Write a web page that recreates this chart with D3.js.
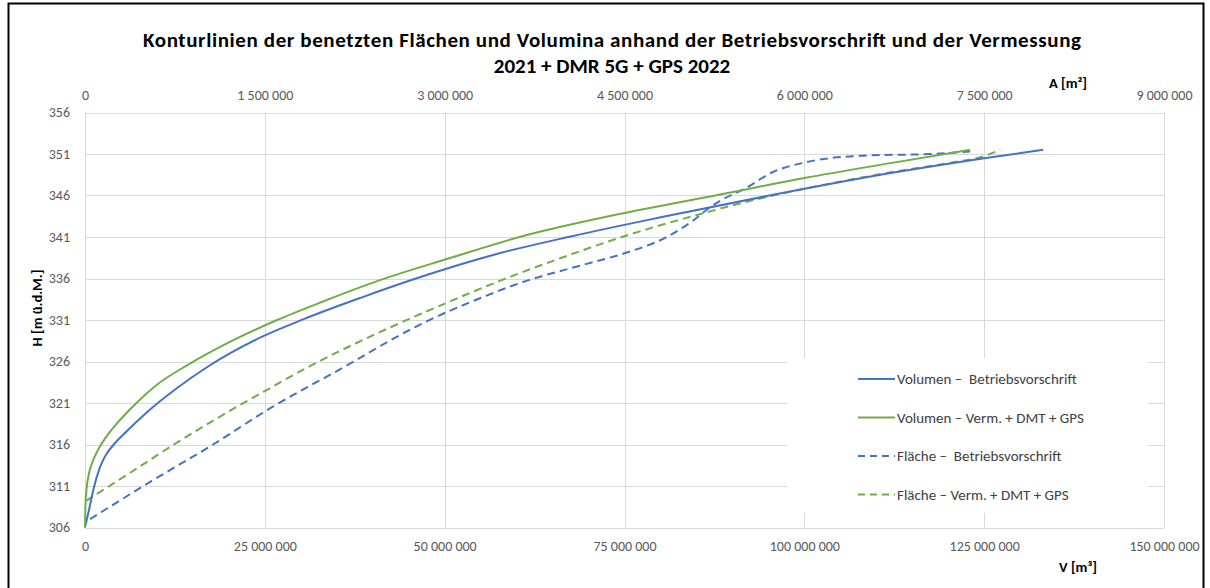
<!DOCTYPE html>
<html>
<head>
<meta charset="utf-8">
<script src="https://cdn.jsdelivr.net/npm/d3@7"></script>
<style>
  body { margin: 0; background: #fff; }
  svg { display: block; font-family: Carlito, Calibri, Lato, sans-serif; }
</style>
</head>
<body>
<div id="chart"></div>
<script>
// V in Mio. m³ / A in Mio. m², H in m ü.d.M.
const volBetrieb = [[0,306],[0.6,308.3],[1.2,310.7],[2.1,313.3],[2.8,314.6],[4.0,316.0],[5.8,317.6],[8.5,319.8],[12.8,322.8],[17.1,325.4],[24.4,328.9],[30.4,331.1],[38.4,333.7],[46,336],[57,338.9],[67.7,341.1],[80.2,343.4],[94.6,345.9],[112,348.7],[125,350.5],[133.2,351.5]];
const volVerm = [[0,306],[0.05,308.5],[0.2,310.5],[0.5,312.3],[1.0,313.8],[1.9,315.5],[3.0,317],[4.5,318.6],[6.8,320.7],[10,323.2],[14.3,325.6],[20,328.3],[26.7,331],[33,333.2],[41,335.8],[50.5,338.4],[60.4,341],[75,343.9],[87.6,346],[100,348.1],[112,349.9],[123,351.5]];
const flBetrieb = [[0.042,307.0],[0.544,311.5],[1.046,315.8],[1.549,320.4],[2.218,325.8],[2.553,328.6],[2.888,331.1],[3.223,333.2],[3.700,335.8],[4.144,337.6],[4.512,339.1],[4.839,340.9],[5.065,342.9],[5.207,344.5],[5.316,345.5],[5.525,347.0],[5.734,348.8],[6.011,350.0],[6.488,350.8],[7.048,351.0],[7.383,351.3]];
const flVerm = [[0.008,309.2],[0.377,312.6],[0.753,316.1],[1.130,319.4],[1.507,322.5],[1.883,325.5],[2.260,328.2],[2.637,330.7],[3.022,333.1],[3.474,335.8],[3.976,338.5],[4.478,341.0],[5.064,343.5],[5.650,345.7],[6.236,347.5],[6.764,348.9],[7.241,350.0],[7.467,350.6],[7.634,351.5]];

const vTicks = [0, 25, 50, 75, 100, 125, 150];
const aTicks = [0, 1.5, 3, 4.5, 6, 7.5, 9];
const hTicks = [306, 311, 316, 321, 326, 331, 336, 341, 346, 351, 356];

const seriesNames = ["Volumen \u2013  Betriebsvorschrift", "Volumen \u2013 Verm. + DMT + GPS", "Fl\u00e4che \u2013  Betriebsvorschrift", "Fl\u00e4che \u2013 Verm. + DMT + GPS"];

const W = 1210, H = 588;
const blue = "#4472c4", green = "#70ad47";

const svg = d3.select("#chart").append("svg")
    .attr("width", W)
    .attr("height", H);

svg.append("rect").attr("width", W).attr("height", H).attr("fill", "#fff");
// chart frame
svg.append("rect")
    .attr("x", 8.5).attr("y", 3.5)
    .attr("width", 1195).attr("height", 600)
    .attr("fill", "none").attr("stroke", "#000").attr("stroke-width", 2);

const x = d3.scaleLinear().domain([0, 150]).range([85, 1164]);
const xA = d3.scaleLinear().domain([0, 9]).range([85, 1164]);
const y = d3.scaleLinear().domain([306, 356]).range([527.5, 112.5]);

const loc = d3.formatLocale({decimal: ",", thousands: " ", grouping: [3], currency: ["", ""]});
const fmt = loc.format(",");

// gridlines
const grid = svg.append("g").attr("stroke", "#d9d9d9").attr("stroke-width", 1);
grid.selectAll(".hg").data(hTicks).join("line")
    .attr("x1", x(0)).attr("x2", x(150))
    .attr("y1", d => Math.round(y(d)) + 0.5).attr("y2", d => Math.round(y(d)) + 0.5);
grid.selectAll(".vg").data(vTicks).join("line")
    .attr("y1", y(356)).attr("y2", y(306))
    .attr("x1", d => Math.round(x(d)) + 0.5).attr("x2", d => Math.round(x(d)) + 0.5);

// axes
const axisStyle = g => {
    g.select(".domain").remove();
    g.selectAll(".tick line").remove();
    g.selectAll("text").attr("fill", "#595959").style("font-size", "14px")
        .style("font-family", "Carlito, Calibri, Lato, sans-serif");
};
svg.append("g").attr("transform", "translate(0,538)")
    .call(d3.axisBottom(x).tickValues(vTicks).tickSize(0).tickFormat(d => fmt(d * 1e6)))
    .call(axisStyle);
svg.append("g").attr("transform", "translate(0,103)")
    .call(d3.axisTop(xA).tickValues(aTicks).tickSize(0).tickFormat(d => fmt(Math.round(d * 1e6))))
    .call(axisStyle);
svg.append("g").attr("transform", "translate(73,0)")
    .call(d3.axisLeft(y).tickValues(hTicks).tickSize(0))
    .call(axisStyle);

// legend background
svg.append("rect").attr("x", 787).attr("y", 358).attr("width", 361).attr("height", 155).attr("fill", "#fff");

// series
const lineV = d3.line().x(d => x(d[0])).y(d => y(d[1])).curve(d3.curveMonotoneX);
const lineA = d3.line().x(d => xA(d[0])).y(d => y(d[1])).curve(d3.curveMonotoneX);
const series = [
    {data: flBetrieb, line: lineA, color: blue, dash: "8,5"},
    {data: flVerm, line: lineA, color: green, dash: "8,5"},
    {data: volBetrieb, line: lineV, color: blue, dash: null},
    {data: volVerm, line: lineV, color: green, dash: null}
];
svg.append("g").selectAll("path").data(series).join("path")
    .attr("d", d => d.line(d.data))
    .attr("fill", "none")
    .attr("stroke", d => d.color)
    .attr("stroke-width", 2)
    .attr("stroke-dasharray", d => d.dash);

// legend
const legend = svg.append("g");
const legendItems = [
    {name: seriesNames[0], color: blue, dash: null},
    {name: seriesNames[1], color: green, dash: null},
    {name: seriesNames[2], color: blue, dash: "7,5"},
    {name: seriesNames[3], color: green, dash: "7,5"}
];
const li = legend.selectAll("g").data(legendItems).join("g")
    .attr("transform", (d, i) => `translate(858,${379 + i * 38.5})`);
li.append("line").attr("x1", 0).attr("x2", 37)
    .attr("stroke", d => d.color).attr("stroke-width", 2)
    .attr("stroke-dasharray", d => d.dash);
li.append("text").attr("x", 39).attr("dy", "0.35em")
    .attr("fill", "#404040").style("font-size", "15px")
    .style("white-space", "pre")
    .text(d => d.name);

// titles
svg.append("text").attr("x", 612).attr("y", 47).attr("text-anchor", "middle")
    .attr("textLength", 938).attr("lengthAdjust", "spacing")
    .style("font-size", "21px").style("font-weight", "bold").attr("fill", "#000")
    .text("Konturlinien der benetzten Fl\u00e4chen und Volumina anhand der Betriebsvorschrift und der Vermessung");
svg.append("text").attr("x", 612).attr("y", 73).attr("text-anchor", "middle")
    .style("font-size", "21px").style("font-weight", "bold").attr("fill", "#000")
    .text("2021 + DMR 5G + GPS 2022");

svg.append("text").attr("x", 1068).attr("y", 88).attr("text-anchor", "middle")
    .style("font-size", "14.5px").style("font-weight", "bold").attr("fill", "#000")
    .text("A [m\u00b2]");
svg.append("text").attr("x", 1078).attr("y", 572).attr("text-anchor", "middle")
    .style("font-size", "14.5px").style("font-weight", "bold").attr("fill", "#000")
    .text("V [m\u00b3]");
svg.append("text").attr("transform", "translate(42,308) rotate(-90)").attr("text-anchor", "middle")
    .style("font-size", "14.5px").style("font-weight", "bold").attr("fill", "#000")
    .text("H [m \u00fc.d.M.]");
</script>
</body>
</html>
